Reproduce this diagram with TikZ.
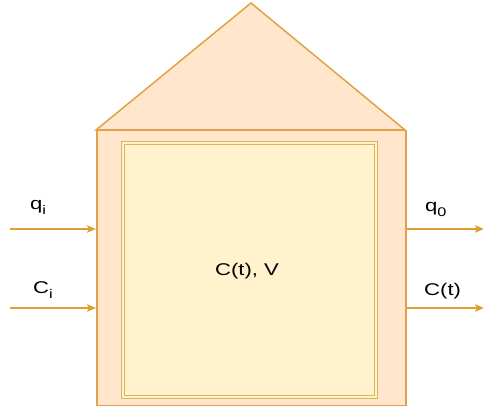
\documentclass[tikz,border=0pt]{standalone}
\usepackage{fontspec}
\setmainfont{Liberation Sans}[FakeStretch=1.3]
\usetikzlibrary{arrows.meta}
\definecolor{housefill}{HTML}{FFE6CC}
\definecolor{housestroke}{HTML}{DFA24A}
\definecolor{boxfill}{HTML}{FFF2CC}
\definecolor{boxstroke}{HTML}{D9B65C}
\definecolor{arrowcol}{HTML}{E0A030}
\newcommand{\lowsub}[1]{\raisebox{-5pt}{\fontsize{12.5}{14}\selectfont #1}}
\tikzset{
  px/.style={x=1pt,y=-1pt},
  housepart/.style={fill=housefill,draw=housestroke,line width=1.5pt,line join=miter},
  boxouter/.style={draw=boxstroke,line width=1.1pt},
  flow/.style={draw=arrowcol,line width=1.6pt,-{Stealth[length=9pt,width=7.5pt,inset=2pt]}},
  lbl/.style={font=\fontsize{17}{20}\selectfont,inner sep=0pt}
}
\begin{document}
\begin{tikzpicture}[px]
\useasboundingbox (0,0) rectangle (483,406);
% roof
\draw[housepart] (96,130) -- (251,3) -- (405,130) -- cycle;
% body
\node[housepart,draw,minimum width=309pt,minimum height=275pt,inner sep=0pt,anchor=north west] (house) at (96,130) {};
% inner tank (double border)
\node[boxouter,fill=boxfill,minimum width=256pt,minimum height=257pt,inner sep=0pt,anchor=north west] (tank) at (121,141) {};
\node[boxouter,minimum width=250pt,minimum height=251pt,inner sep=0pt] (tankin) at (tank.center) {};
\node[lbl,anchor=base] (content) at (247,276) {C(t), V};
% flows
\coordinate (qin) at (10,229);
\coordinate (cin) at (10,308);
\coordinate (qout) at (484,229);
\coordinate (cout) at (484,308);
\draw[flow] (qin) -- (qin -| house.west);
\draw[flow] (cin) -- (cin -| house.west);
\draw[flow] (qout -| house.east) -- (qout);
\draw[flow] (cout -| house.east) -- (cout);
\node[lbl,anchor=base west] (qilbl) at (30,210) {q\lowsub{i}};
\node[lbl,anchor=base west] (cilbl) at (33,294) {C\lowsub{i}};
\node[lbl,anchor=base west] (qolbl) at (425,212) {q\lowsub{0}};
\node[lbl,anchor=base west] (colbl) at (424,296) {C(t)};
\end{tikzpicture}
\end{document}
